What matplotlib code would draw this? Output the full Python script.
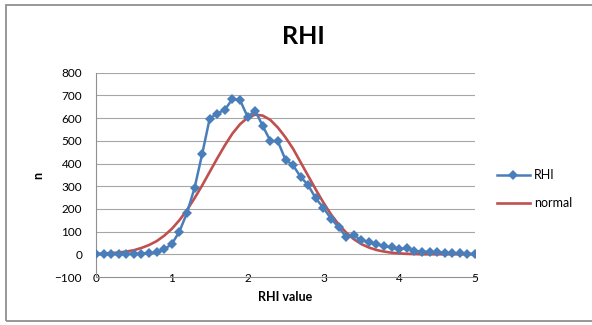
import matplotlib
matplotlib.use("Agg")
import matplotlib.pyplot as plt
from matplotlib.patches import Rectangle

plt.rcParams['font.family'] = ['Lato', 'DejaVu Sans']

# x values (RHI value)
x_vals = [0.0, 0.1, 0.2, 0.3, 0.4, 0.5, 0.6, 0.7, 0.8, 0.9,
          1.0, 1.1, 1.2, 1.3, 1.4, 1.5, 1.6, 1.7, 1.8, 1.9,
          2.0, 2.1, 2.2, 2.3, 2.4, 2.5, 2.6, 2.7, 2.8, 2.9,
          3.0, 3.1, 3.2, 3.3, 3.4, 3.5, 3.6, 3.7, 3.8, 3.9,
          4.0, 4.1, 4.2, 4.3, 4.4, 4.5, 4.6, 4.7, 4.8, 4.9, 5.0]

# RHI counts
rhi_vals = [0, 0, 0, 0, 1, 2, 3, 5, 8, 22,
            45, 100, 182, 292, 441, 598, 620, 637, 684, 679,
            606, 633, 565, 500, 497, 416, 392, 341, 304, 246,
            205, 157, 120, 76, 84, 62, 54, 44, 36, 30,
            22, 28, 15, 12, 10, 8, 7, 5, 4, 3, 1]

# fitted normal curve
normal_vals = [2, 3, 5, 8, 12, 18, 28, 41, 58, 82,
               112, 150, 195, 247, 303, 363, 423, 480, 532, 573,
               602, 615, 611, 592, 558, 515, 465, 405, 345, 285,
               228, 176, 132, 96, 67, 45, 30, 19, 12, 7,
               4, 2, 1, 0, 0, 0, 0, 0, 0, 0, 0]

series_labels = ["RHI", "normal"]
title_text = "RHI"
x_label = "RHI value"
y_label = "n"
x_ticks = [0, 1, 2, 3, 4, 5]
y_ticks = [-100, 0, 100, 200, 300, 400, 500, 600, 700, 800]

W, H = 592, 325
fig = plt.figure(figsize=(W / 100, H / 100), dpi=100)

# outer chart border
fig.add_artist(Rectangle((6 / W, 1 - 321 / H), (W + 10) / W, (321 - 5) / H,
                         transform=fig.transFigure, fill=False,
                         edgecolor='#909090', linewidth=1.3))

left, right = 96 / W, 475 / W
top, bottom = 1 - 72.7 / H, 1 - 277 / H
ax = fig.add_axes([left, bottom, right - left, top - bottom])

ax.set_xlim(0, 5)
ax.set_ylim(-100, 800)

for yv in y_ticks:
    if yv > -100:
        ax.axhline(yv, color='#A6A6A6', linewidth=0.8, zorder=0)

ax.plot(x_vals, normal_vals, color='#C0504D', linewidth=1.9, zorder=2,
        label=series_labels[1])
ax.plot(x_vals, rhi_vals, color='#4A7EBB', linewidth=1.8, marker='D',
        markersize=5.2, markeredgewidth=0, zorder=3, label=series_labels[0])

for s in ['top', 'right']:
    ax.spines[s].set_visible(False)
for s in ['left', 'bottom']:
    ax.spines[s].set_color('#909090')
    ax.spines[s].set_linewidth(0.8)

ax.set_xticks(x_ticks)
ax.set_yticks(y_ticks)
ax.tick_params(axis='x', length=0, pad=0.8, labelsize=8.5, colors='#000000')
ax.tick_params(axis='y', length=0, pad=10, labelsize=8.5, colors='#000000')
for lbl in ax.get_xticklabels():
    lbl.set_verticalalignment('center')

fig.text(285.5 / W, 1 - 297 / H, x_label, ha='center', va='center',
         fontsize=9, fontweight='bold')
fig.text(38 / W, 1 - 175 / H, y_label, ha='center', va='center',
         fontsize=9, fontweight='bold', rotation=90)
fig.text(303 / W, 1 - 37 / H, title_text, ha='center', va='center',
         fontsize=18, fontweight='bold')

handles, labels = ax.get_legend_handles_labels()
order = [1, 0]
fig.legend([handles[i] for i in order], [labels[i] for i in order],
           loc='center left', bbox_to_anchor=(497 / W, 1 - 189 / H),
           frameon=False, fontsize=9, handlelength=2.6, handletextpad=0.35,
           labelspacing=1.3, borderaxespad=0, borderpad=0)

fig.savefig('out.png', dpi=100)
